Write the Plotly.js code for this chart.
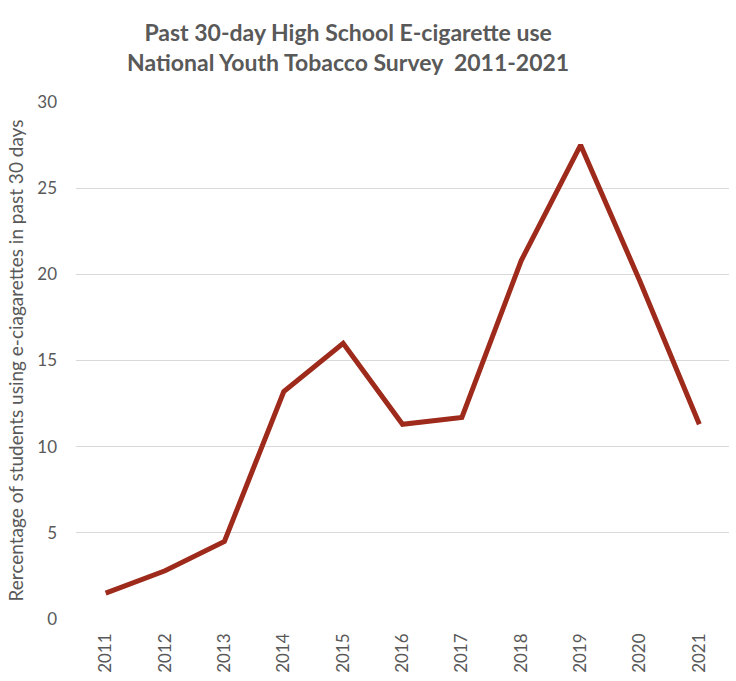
<!DOCTYPE html>
<html><head><meta charset="utf-8">
<script src="https://cdn.plot.ly/plotly-3.0.1.min.js"></script>
<style>html,body{margin:0;padding:0;background:#fff}#c{width:736px;height:681px}</style>
</head><body><div id="c"></div>
<script>
const years = ['2011','2012','2013','2014','2015','2016','2017','2018','2019','2020','2021'];
const pctUse = [1.5, 2.8, 4.5, 13.2, 16.0, 11.3, 11.7, 20.8, 27.5, 19.6, 11.3];
const yTicks = [0, 5, 10, 15, 20, 25, 30];

Plotly.newPlot('c', [{
  x: years, y: pctUse, type: 'scatter', mode: 'lines',
  line: {color: '#9e2a1b', width: 5}
}], {
  width: 736, height: 681,
  margin: {l: 76, r: 7, t: 102, b: 62},
  paper_bgcolor: '#fff', plot_bgcolor: '#fff',
  showlegend: false,
  font: {family: 'Lato, "Open Sans", sans-serif', color: '#595959'},
  title: {
    text: '<b>Past 30-day High School E-cigarette use<br>National Youth Tobacco Survey  2011-2021</b>',
    x: 0.473, xanchor: 'center', y: 0.94, yanchor: 'top',
    font: {size: 23, color: '#595959', family: 'Lato, "Open Sans", sans-serif'}
  },
  xaxis: {
    type: 'category', range: [-0.5, 10.5], tickangle: -90,
    showgrid: false, zeroline: false, showline: false, ticks: '',
    ticklabelstandoff: 10,
    tickfont: {size: 17, color: '#595959'}
  },
  yaxis: {
    range: [0, 30], tickvals: yTicks, showgrid: true, gridcolor: '#d9d9d9', gridwidth: 1,
    zeroline: false, showline: false, ticks: '', ticklen: 0,
    ticklabelstandoff: 18,
    tickfont: {size: 17, color: '#595959'},
    title: {text: 'Rercentage of students using e-ciagarettes in past 30 days', standoff: 8,
      font: {size: 19, color: '#595959'}}
  }
}, {displayModeBar: false, staticPlot: true});
</script></body></html>
